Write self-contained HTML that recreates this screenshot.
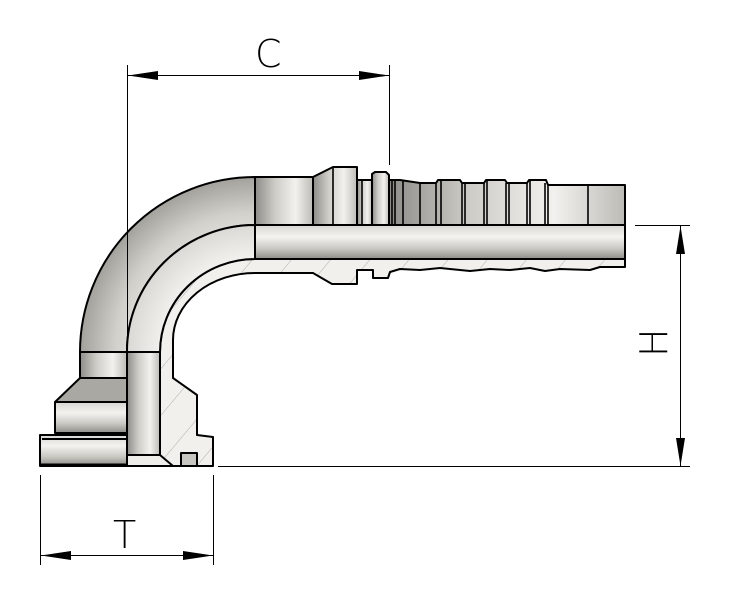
<!DOCTYPE html>
<html><head><style>html,body{margin:0;padding:0;background:#fff;}svg{display:block}</style></head>
<body>
<svg width="743" height="613" viewBox="0 0 743 613" xmlns="http://www.w3.org/2000/svg">
<defs>
<linearGradient id="gv" x1="0" y1="0" x2="0" y2="1">
<stop offset="0" stop-color="#d8d6d2"/><stop offset="0.35" stop-color="#f4f3f0"/><stop offset="0.7" stop-color="#c9c7c2"/><stop offset="1" stop-color="#8e8c88"/></linearGradient>
<linearGradient id="gh" x1="0" y1="0" x2="1" y2="0">
<stop offset="0" stop-color="#8e8c88"/><stop offset="0.35" stop-color="#cfcdc8"/><stop offset="0.7" stop-color="#f2f1ee"/><stop offset="1" stop-color="#bdbbb6"/></linearGradient>
<radialGradient id="gr" cx="255" cy="352" r="175" gradientUnits="userSpaceOnUse">
<stop offset="0.55" stop-color="#f0efec"/><stop offset="0.8" stop-color="#d2d0cb"/><stop offset="1" stop-color="#a3a19c"/></radialGradient>
<pattern id="hat" width="30" height="30" patternUnits="userSpaceOnUse" patternTransform="rotate(-50)">
<rect width="30" height="30" fill="#f1f0ec"/><line x1="0" y1="0" x2="30" y2="0" stroke="#999" stroke-width="0.8"/></pattern>
</defs>
<g stroke="#000" stroke-width="2" stroke-linejoin="round">
<!-- hatched section -->
<path d="M160,352 A95,93 0 0 1 255,259 L625,259 L625,267 L600,267 L590,270 L560,269 L545,271 L530,268 L510,270 L490,269 L470,271 L440,268 L420,270 L400,269 L390,272 L388,278 L373,278 L373,270 L357,270 L357,284 L332,284 L313,273 L255,273 A82,67 0 0 0 173,340 L173,378 L197,395 L197,435 L213,437 L213,466 L127,466 Z" fill="url(#hat)"/>
<!-- outer elbow -->
<path d="M80,352 A175,175 0 0 1 255,177 L255,225 A128,126 0 0 0 127,352 Z" fill="url(#gr)"/>
<!-- bore elbow -->
<path d="M127,352 A128,126 0 0 1 255,225 L255,259 A95,93 0 0 0 160,352 Z" fill="url(#gr)"/>
<!-- bore straight -->
<rect x="255" y="225" width="370" height="34" fill="url(#gv)"/>
<!-- bore vertical -->
<rect x="127" y="352" width="33" height="103" fill="url(#gh)"/>
<path d="M127,455 L160,455 L173,466 L127,466 Z" fill="#eeede9"/>
<rect x="181" y="453" width="16" height="13" fill="#c8c6c1"/>
<!-- flange -->
<rect x="80" y="352" width="47" height="26" fill="url(#gh)"/>
<path d="M80,378 L127,378 L127,402 L55,402 Z" fill="#aaa8a3"/>
<rect x="55" y="402" width="72" height="31" fill="url(#gv)"/>
<rect x="40" y="435" width="87" height="31" fill="url(#gv)"/>
<line x1="42" y1="439" x2="127" y2="439"/>
<line x1="40" y1="465" x2="127" y2="465" stroke-width="3"/>
<!-- tail -->
<rect x="255" y="177" width="58" height="48" fill="url(#gh)"/>
<path d="M313,225 L313,177 L333,167 L357,167 L357,225 Z" fill="url(#gh)"/>
<rect x="357" y="180" width="15" height="45" fill="url(#gh)"/>
<path d="M372,225 L372,174 L375,172 L386,172 L389,175 L389,225 Z" fill="url(#gh)"/>
<path d="M389,225 L389,180 L400,180 L420,183 L436,183 L438,180 L460,180 L462,183 L484,183 L486,180 L505,180 L507,183 L527,183 L529,180 L546,180 L548,185 L625,185 L625,225 Z" fill="url(#gh)"/>
<g stroke-width="1.6">
<line x1="392" y1="180" x2="392" y2="225"/><line x1="395" y1="180" x2="395" y2="225"/>
<line x1="403" y1="181" x2="403" y2="225"/><line x1="420" y1="183" x2="420" y2="225"/>
<line x1="436" y1="183" x2="436" y2="225"/><line x1="441" y1="180" x2="441" y2="225"/>
<line x1="462" y1="183" x2="462" y2="225"/><line x1="465" y1="183" x2="465" y2="225"/>
<line x1="484" y1="183" x2="484" y2="225"/><line x1="487" y1="180" x2="487" y2="225"/>
<line x1="506" y1="183" x2="506" y2="225"/><line x1="509" y1="183" x2="509" y2="225"/>
<line x1="527" y1="183" x2="527" y2="225"/><line x1="530" y1="180" x2="530" y2="225"/>
<line x1="545" y1="183" x2="545" y2="225"/><line x1="548" y1="185" x2="548" y2="225"/>
<line x1="588" y1="185" x2="588" y2="225"/><line x1="333" y1="167" x2="333" y2="225"/>
<line x1="362" y1="180" x2="362" y2="225"/>
</g>
</g>
<!-- dimensions -->
<g stroke="#000" stroke-width="1" fill="none">
<line x1="127.5" y1="65" x2="127.5" y2="466"/>
<line x1="389.5" y1="65" x2="389.5" y2="165"/>
<line x1="127" y1="75.5" x2="389" y2="75.5"/>
<line x1="635" y1="225.5" x2="690" y2="225.5"/>
<line x1="218" y1="466.5" x2="690" y2="466.5"/>
<line x1="680.5" y1="225" x2="680.5" y2="466"/>
<line x1="40.5" y1="475" x2="40.5" y2="565"/>
<line x1="213.5" y1="475" x2="213.5" y2="565"/>
<line x1="40" y1="555.5" x2="213" y2="555.5"/>
</g>
<g fill="#000">
<path d="M128,75.5 L158,71 L158,80 Z"/><path d="M389,75.5 L359,71 L359,80 Z"/>
<path d="M680.5,226 L676,254 L685,254 Z"/><path d="M680.5,466 L676,438 L685,438 Z"/>
<path d="M41,555.5 L71,551 L71,560 Z"/><path d="M213,555.5 L183,551 L183,560 Z"/>
</g>
<g font-family="'DejaVu Sans','Liberation Sans',sans-serif" font-size="38" font-weight="200" fill="#000">
<text x="255" y="67">C</text>
<text x="113" y="548">T</text>
<text transform="translate(667,357) rotate(-90)">H</text>
</g>
</svg>
</body></html>
